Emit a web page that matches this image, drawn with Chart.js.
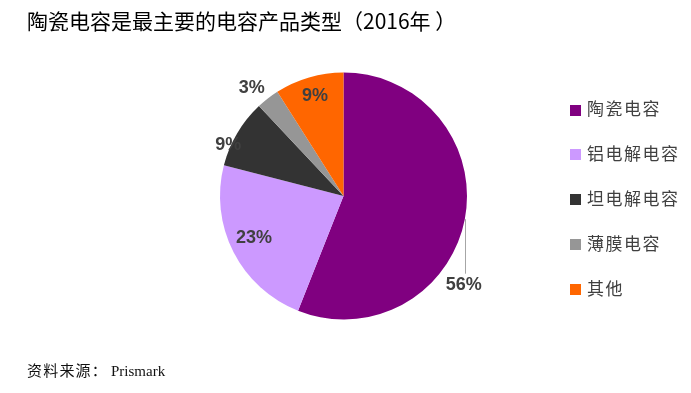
<!DOCTYPE html>
<html>
<head>
<meta charset="utf-8">
<script src="https://cdn.jsdelivr.net/npm/chart.js@4"></script>
<style>
  body { margin: 0; background: #fff; }
  #wrap { position: relative; width: 691px; height: 393px; }
  #title { position: absolute; left: 27px; top: 5px; font: 21px "Noto Sans CJK SC", sans-serif; color: #000; white-space: pre; }
  #source { position: absolute; left: 27px; top: 359px; font: 15px "Liberation Serif", "Noto Sans CJK SC", serif; color: #111; white-space: nowrap; }
  #source .cjk { letter-spacing: 1.2px; }
  #source .en { margin-left: 3px; }
  canvas { position: absolute; left: 0; top: 0; }
</style>
</head>
<body>
<div id="wrap">
  <canvas id="myChart" width="691" height="393"></canvas>
  <div id="title">陶瓷电容是最主要的电容产品类型（2016年 ）</div>
  <div id="source"><span class="cjk">资料来源：</span><span class="en">Prismark</span></div>
</div>
<script>
const categories = ['陶瓷电容', '铝电解电容', '坦电解电容', '薄膜电容', '其他'];
const shares = [56, 23, 9, 3, 9];
const shareLabels = ['56%', '23%', '9%', '3%', '9%'];
const colors = ['#800080', '#CC99FF', '#333333', '#969696', '#FF6600'];

// where each label sits: radius factor and angle nudge (degrees)
const labelPlace = [
  { f: 1.21, da: 25.6 },
  { f: 0.80, da: 2 },
  { f: 1.02, da: -6.7 },
  { f: 1.15, da: -2.5 },
  { f: 0.84, da: 0.3 }
];

const pieLabels = {
  id: 'pieLabels',
  afterDatasetsDraw(chart) {
    const ctx = chart.ctx;
    const arcs = chart.getDatasetMeta(0).data;
    ctx.save();
    ctx.font = 'bold 18px "Liberation Sans", Arial, sans-serif';
    ctx.fillStyle = '#404040';
    ctx.textAlign = 'center';
    ctx.textBaseline = 'middle';
    arcs.forEach((arc, i) => {
      const p = arc.getProps(['x', 'y', 'startAngle', 'endAngle', 'outerRadius'], true);
      const mid = (p.startAngle + p.endAngle) / 2 + labelPlace[i].da * Math.PI / 180;
      const r = p.outerRadius * labelPlace[i].f;
      const lx = p.x + Math.cos(mid) * r;
      const ly = p.y + Math.sin(mid) * r;
      if (i === 0) {
        // leader line up to the slice edge
        const x = Math.round(lx + 1) + 0.5;
        const dx = x - p.x;
        const ey = p.y + Math.sqrt(Math.max(0, p.outerRadius * p.outerRadius - dx * dx));
        ctx.strokeStyle = '#A6A6A6';
        ctx.lineWidth = 1;
        ctx.beginPath();
        ctx.moveTo(x, ey + 4);
        ctx.lineTo(x, ly - 11);
        ctx.stroke();
      }
      ctx.fillText(shareLabels[i], lx, ly);
    });
    ctx.restore();
  }
};

const sideLegend = {
  id: 'sideLegend',
  afterDraw(chart) {
    const ctx = chart.ctx;
    ctx.save();
    ctx.font = '17px "Liberation Serif", "Noto Sans CJK SC", serif';
    ctx.letterSpacing = '1.5px';
    ctx.textBaseline = 'middle';
    chart.data.labels.forEach((name, i) => {
      const y = 110 + i * 44.8;
      ctx.fillStyle = chart.data.datasets[0].backgroundColor[i];
      ctx.fillRect(570, Math.round(y - 5.5), 11, 11);
      ctx.fillStyle = '#404040';
      ctx.fillText(name, 587, y + 1);
    });
    ctx.restore();
  }
};

const ctx = document.getElementById('myChart').getContext('2d');
new Chart(ctx, {
  type: 'pie',
  data: {
    labels: categories,
    datasets: [{
      data: shares,
      backgroundColor: colors,
      borderWidth: 0
    }]
  },
  options: {
    responsive: false,
    animation: false,
    layout: { padding: { left: 220, right: 224, top: 72, bottom: 73 } },
    plugins: {
      legend: { display: false },
      tooltip: { enabled: false }
    }
  },
  plugins: [pieLabels, sideLegend]
});
</script>
</body>
</html>
